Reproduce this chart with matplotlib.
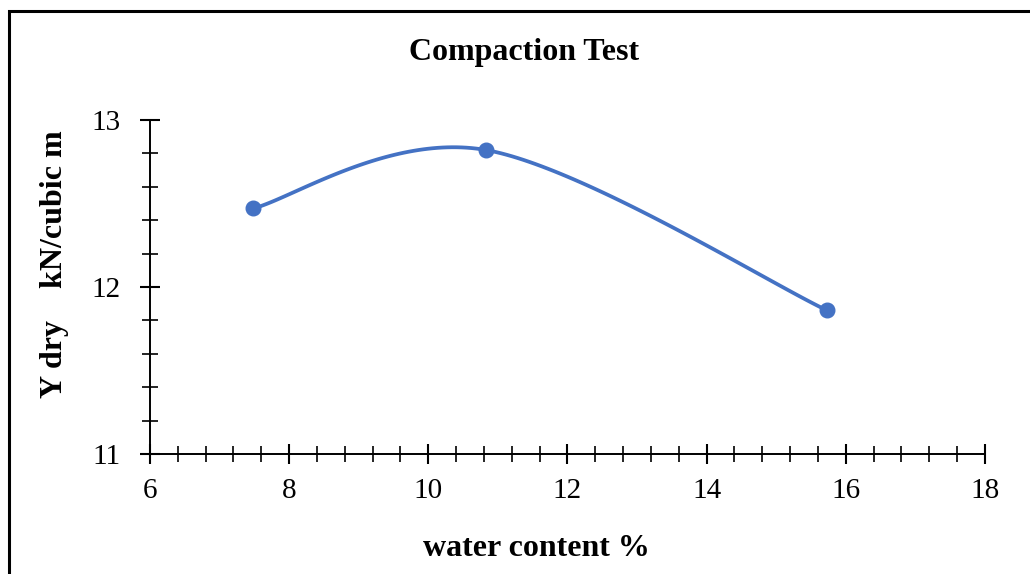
import numpy as np
import matplotlib
matplotlib.use("Agg")
import matplotlib.pyplot as plt
from matplotlib.patches import Rectangle
from matplotlib.ticker import MultipleLocator

# compaction test data
water_content = [7.48, 10.83, 15.73]
y_dry = [12.47, 12.82, 11.86]

title_text = "Compaction Test"
x_label = "water content %"
y_label = "Y dry    kN/cubic m"

plt.rcParams['font.family'] = ['Liberation Serif', 'DejaVu Serif']


def smooth_curve(xs, ys, n=60):
    # excel-like smoothed line (bezier through points)
    pts = np.column_stack([xs, ys])
    padded = np.vstack([pts[0], pts, pts[-1]])
    out = []
    for i in range(1, len(padded) - 2):
        p0, p1, p2, p3 = padded[i - 1], padded[i], padded[i + 1], padded[i + 2]
        c1 = p1 + (p2 - p0) / 6.0
        c2 = p2 - (p3 - p1) / 6.0
        t = np.linspace(0, 1, n)[:, None]
        seg = ((1 - t) ** 3) * p1 + 3 * ((1 - t) ** 2) * t * c1 + 3 * (1 - t) * t ** 2 * c2 + t ** 3 * p2
        out.append(seg)
    out = np.vstack(out)
    return out[:, 0], out[:, 1]


fig = plt.figure(figsize=(10.3, 5.74), dpi=100)
ax = fig.add_axes([0.1456, 0.209, 0.8107, 0.582])

sx, sy = smooth_curve(water_content, y_dry)
ax.plot(sx, sy, color="#4472C4", lw=2.7, solid_capstyle="round", zorder=3)
ax.plot(water_content, y_dry, "o", color="#4472C4", ms=10.5, zorder=4)

ax.set_xlim(6, 18)
ax.set_ylim(11, 13)
ax.xaxis.set_major_locator(MultipleLocator(2))
ax.xaxis.set_minor_locator(MultipleLocator(0.4))
ax.yaxis.set_major_locator(MultipleLocator(1))
ax.yaxis.set_minor_locator(MultipleLocator(0.2))

for s in ["top", "right"]:
    ax.spines[s].set_visible(False)
for s in ["left", "bottom"]:
    ax.spines[s].set_linewidth(1.4)

ax.tick_params(which="major", direction="inout", length=14, width=1.5, labelsize=21)
ax.tick_params(which="minor", direction="inout", length=11, width=1.2)
ax.tick_params(axis="x", which="major", pad=10)
ax.tick_params(axis="y", which="major", pad=14)

fig.text(0.509, 0.909, title_text, ha="center", va="center", fontsize=23, fontweight="bold")
fig.text(0.521, 0.045, x_label, ha="center", va="center", fontsize=23, fontweight="bold")
fig.text(0.053, 0.54, y_label, ha="center", va="center", rotation=90, fontsize=23, fontweight="bold")

# outer frame of the chart area
fig.patches.append(Rectangle((0.0092, -0.05), 1.1, 1.03, transform=fig.transFigure,
                             fill=False, edgecolor="black", lw=2.2))

fig.savefig("out.png", dpi=100)
